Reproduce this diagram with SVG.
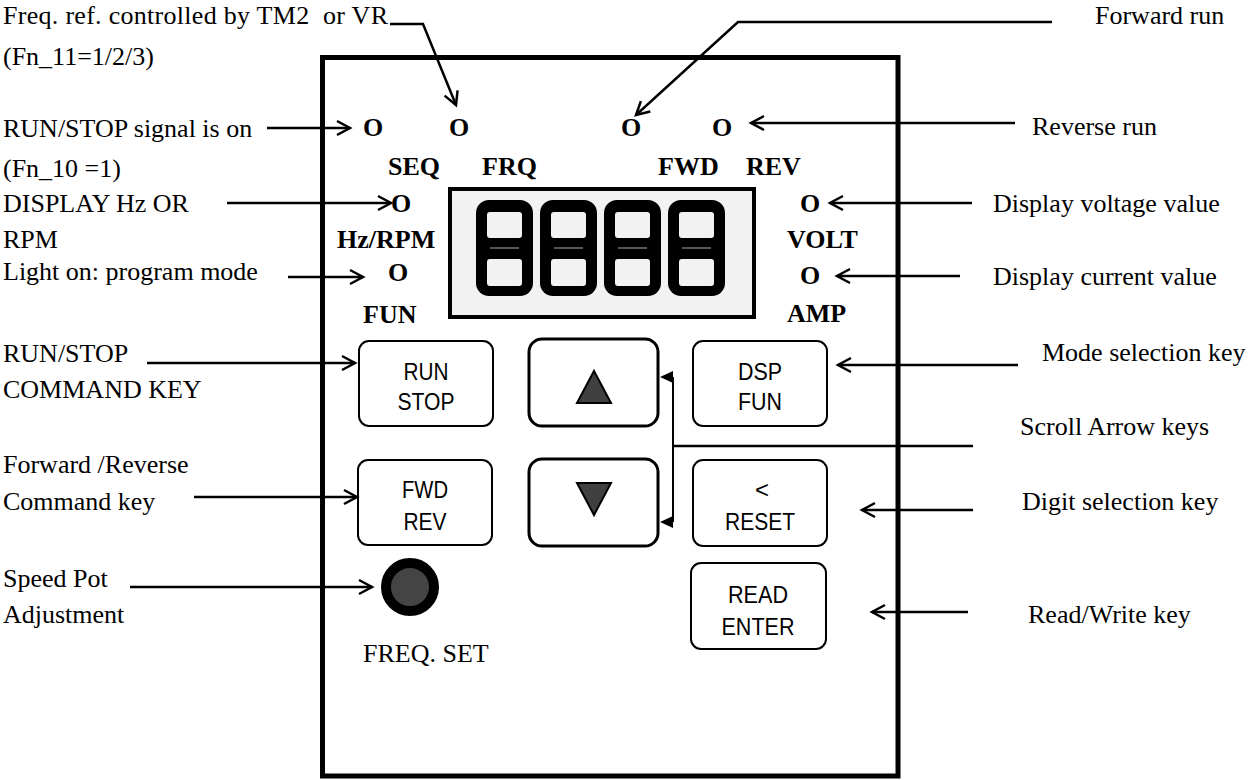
<svg xmlns="http://www.w3.org/2000/svg" width="1251" height="780" viewBox="0 0 1251 780">
<style>
.lbl{font-family:"Liberation Serif","Times New Roman",serif;font-size:26px;fill:#000;white-space:pre}
.bold{font-family:"Liberation Serif","Times New Roman",serif;font-size:26px;font-weight:bold;fill:#000}
.key{font-family:"Liberation Sans",Arial,sans-serif;font-size:24px;fill:#000;text-anchor:middle}
.btn{fill:#fff;stroke:#000;stroke-width:2}
.btn3{fill:#fff;stroke:#000;stroke-width:3}
.con{fill:none;stroke:#000;stroke-width:2.5}
.digit{fill:#000}
.win{fill:#f2f2f2}
.seg{stroke:#b0b0b0;stroke-width:1}
</style>
<defs>
<marker id="open" viewBox="-16 -10 20 20" refX="0" refY="0" markerWidth="20" markerHeight="20" markerUnits="userSpaceOnUse" orient="auto">
<path d="M-13,-7 L0,0 L-13,7" fill="none" stroke="#000" stroke-width="2.5"/>
</marker>
</defs>
<rect width="1251" height="780" fill="#fff"/>

<g id="frame">
<rect x="322.5" y="57.5" width="575.5" height="718.5" fill="none" stroke="#000" stroke-width="5"/>
</g>

<g id="display">
<rect x="450" y="189" width="304" height="128" fill="#f2f2f2" stroke="#000" stroke-width="4"/>
<g id="digit1">
<rect class="digit" x="476" y="200" width="57" height="96" rx="13"/>
<rect class="win" x="487" y="212" width="35" height="26" rx="3"/>
<rect class="win" x="487" y="259" width="35" height="27" rx="3"/>
<line class="seg" x1="490" y1="248" x2="519" y2="248"/>
</g>
<g id="digit2">
<rect class="digit" x="540" y="200" width="57" height="96" rx="13"/>
<rect class="win" x="551" y="212" width="35" height="26" rx="3"/>
<rect class="win" x="551" y="259" width="35" height="27" rx="3"/>
<line class="seg" x1="554" y1="248" x2="583" y2="248"/>
</g>
<g id="digit3">
<rect class="digit" x="604" y="200" width="57" height="96" rx="13"/>
<rect class="win" x="615" y="212" width="35" height="26" rx="3"/>
<rect class="win" x="615" y="259" width="35" height="27" rx="3"/>
<line class="seg" x1="618" y1="248" x2="647" y2="248"/>
</g>
<g id="digit4">
<rect class="digit" x="668" y="200" width="57" height="96" rx="13"/>
<rect class="win" x="679" y="212" width="35" height="26" rx="3"/>
<rect class="win" x="679" y="259" width="35" height="27" rx="3"/>
<line class="seg" x1="682" y1="248" x2="711" y2="248"/>
</g>
</g>

<g id="led-seq"><text class="bold" x="363" y="136">O</text><text class="bold" x="388" y="175">SEQ</text></g>
<g id="led-frq"><text class="bold" x="449" y="136">O</text><text class="bold" x="482" y="175">FRQ</text></g>
<g id="led-fwd"><text class="bold" x="621" y="136">O</text><text class="bold" x="658" y="175">FWD</text></g>
<g id="led-rev"><text class="bold" x="712" y="136">O</text><text class="bold" x="746" y="175">REV</text></g>
<g id="led-hz"><text class="bold" x="391" y="212">O</text><text class="bold" x="337" y="248">Hz/RPM</text></g>
<g id="led-fun"><text class="bold" x="388" y="281">O</text><text class="bold" x="363" y="323">FUN</text></g>
<g id="led-volt"><text class="bold" x="800" y="212">O</text><text class="bold" x="787" y="248">VOLT</text></g>
<g id="led-amp"><text class="bold" x="800" y="284">O</text><text class="bold" x="787" y="322">AMP</text></g>

<g id="key-runstop">
<rect class="btn" x="359" y="341" width="134" height="85" rx="10"/>
<text class="key" x="426" y="380" textLength="45" lengthAdjust="spacingAndGlyphs">RUN</text>
<text class="key" x="426" y="410" textLength="57" lengthAdjust="spacingAndGlyphs">STOP</text>
</g>
<g id="key-up">
<rect class="btn3" x="529" y="339" width="129" height="87" rx="13"/>
<polygon points="594,371 611,403 577,403" fill="#404040" stroke="#000" stroke-width="2"/>
</g>
<g id="key-dspfun">
<rect class="btn" x="693" y="341" width="134" height="85" rx="10"/>
<text class="key" x="760" y="380" textLength="44" lengthAdjust="spacingAndGlyphs">DSP</text>
<text class="key" x="760" y="410" textLength="44" lengthAdjust="spacingAndGlyphs">FUN</text>
</g>
<g id="key-fwdrev">
<rect class="btn" x="358" y="460" width="134" height="85" rx="10"/>
<text class="key" x="425" y="498" textLength="46" lengthAdjust="spacingAndGlyphs">FWD</text>
<text class="key" x="425" y="530" textLength="43" lengthAdjust="spacingAndGlyphs">REV</text>
</g>
<g id="key-down">
<rect class="btn3" x="529" y="459" width="129" height="87" rx="13"/>
<polygon points="577,483 611,483 594,515" fill="#404040" stroke="#000" stroke-width="2"/>
</g>
<g id="key-reset">
<rect class="btn" x="693" y="460" width="134" height="86" rx="10"/>
<text class="key" x="762" y="498">&lt;</text>
<text class="key" x="760" y="530" textLength="70" lengthAdjust="spacingAndGlyphs">RESET</text>
</g>
<g id="key-read">
<rect class="btn" x="691" y="563" width="135" height="86" rx="10"/>
<text class="key" x="758" y="603" textLength="60" lengthAdjust="spacingAndGlyphs">READ</text>
<text class="key" x="758" y="635" textLength="73" lengthAdjust="spacingAndGlyphs">ENTER</text>
</g>
<g id="pot">
<circle cx="410" cy="587" r="24" fill="#444" stroke="#000" stroke-width="10"/>
<text class="lbl" x="363" y="662">FREQ. SET</text>
</g>

<g id="labels-left">
<text class="lbl" x="3" y="24" textLength="385" lengthAdjust="spacing">Freq. ref. controlled by TM2  or VR</text>
<text class="lbl" x="3" y="65">(Fn_11=1/2/3)</text>
<text class="lbl" x="3" y="137">RUN/STOP signal is on</text>
<text class="lbl" x="3" y="177">(Fn_10 =1)</text>
<text class="lbl" x="3" y="212">DISPLAY Hz OR</text>
<text class="lbl" x="3" y="248">RPM</text>
<text class="lbl" x="3" y="280">Light on: program mode</text>
<text class="lbl" x="3" y="362">RUN/STOP</text>
<text class="lbl" x="3" y="398">COMMAND KEY</text>
<text class="lbl" x="3" y="473">Forward /Reverse</text>
<text class="lbl" x="3" y="510">Command key</text>
<text class="lbl" x="3" y="587">Speed Pot</text>
<text class="lbl" x="3" y="623">Adjustment</text>
</g>
<g id="labels-right">
<text class="lbl" x="1095" y="24">Forward run</text>
<text class="lbl" x="1032" y="135">Reverse run</text>
<text class="lbl" x="993" y="212">Display voltage value</text>
<text class="lbl" x="993" y="285">Display current value</text>
<text class="lbl" x="1042" y="361">Mode selection key</text>
<text class="lbl" x="1020" y="435">Scroll Arrow keys</text>
<text class="lbl" x="1022" y="510">Digit selection key</text>
<text class="lbl" x="1028" y="623">Read/Write key</text>
</g>

<g id="connectors">
<polyline class="con" points="390,24 423,24 456,105" marker-end="url(#open)"/>
<polyline class="con" points="1052,22 738,22 636,115" marker-end="url(#open)"/>
<line class="con" x1="267" y1="128" x2="350" y2="128" marker-end="url(#open)"/>
<line class="con" x1="1015" y1="123" x2="751" y2="123" marker-end="url(#open)"/>
<line class="con" x1="227" y1="203" x2="391" y2="203" marker-end="url(#open)"/>
<line class="con" x1="288" y1="277" x2="363" y2="277" marker-end="url(#open)"/>
<line class="con" x1="972" y1="203" x2="830" y2="203" marker-end="url(#open)"/>
<line class="con" x1="960" y1="276" x2="837" y2="276" marker-end="url(#open)"/>
<line class="con" x1="147" y1="363" x2="355" y2="363" marker-end="url(#open)"/>
<line class="con" x1="194" y1="497" x2="357" y2="497" marker-end="url(#open)"/>
<line class="con" x1="130" y1="587" x2="372" y2="587" marker-end="url(#open)"/>
<line class="con" x1="1018" y1="365" x2="838" y2="365" marker-end="url(#open)"/>
<line class="con" x1="973" y1="510" x2="862" y2="510" marker-end="url(#open)"/>
<line class="con" x1="968" y1="612" x2="872" y2="612" marker-end="url(#open)"/>
<g id="scroll-bracket">
<line x1="673" y1="377" x2="673" y2="522" stroke="#000" stroke-width="2"/>
<line x1="673" y1="446" x2="973" y2="446" stroke="#000" stroke-width="2.5"/>
<polygon points="660,377 673,371 673,383" fill="#000"/>
<polygon points="660,522 673,516 673,528" fill="#000"/>
</g>
</g>
</svg>
